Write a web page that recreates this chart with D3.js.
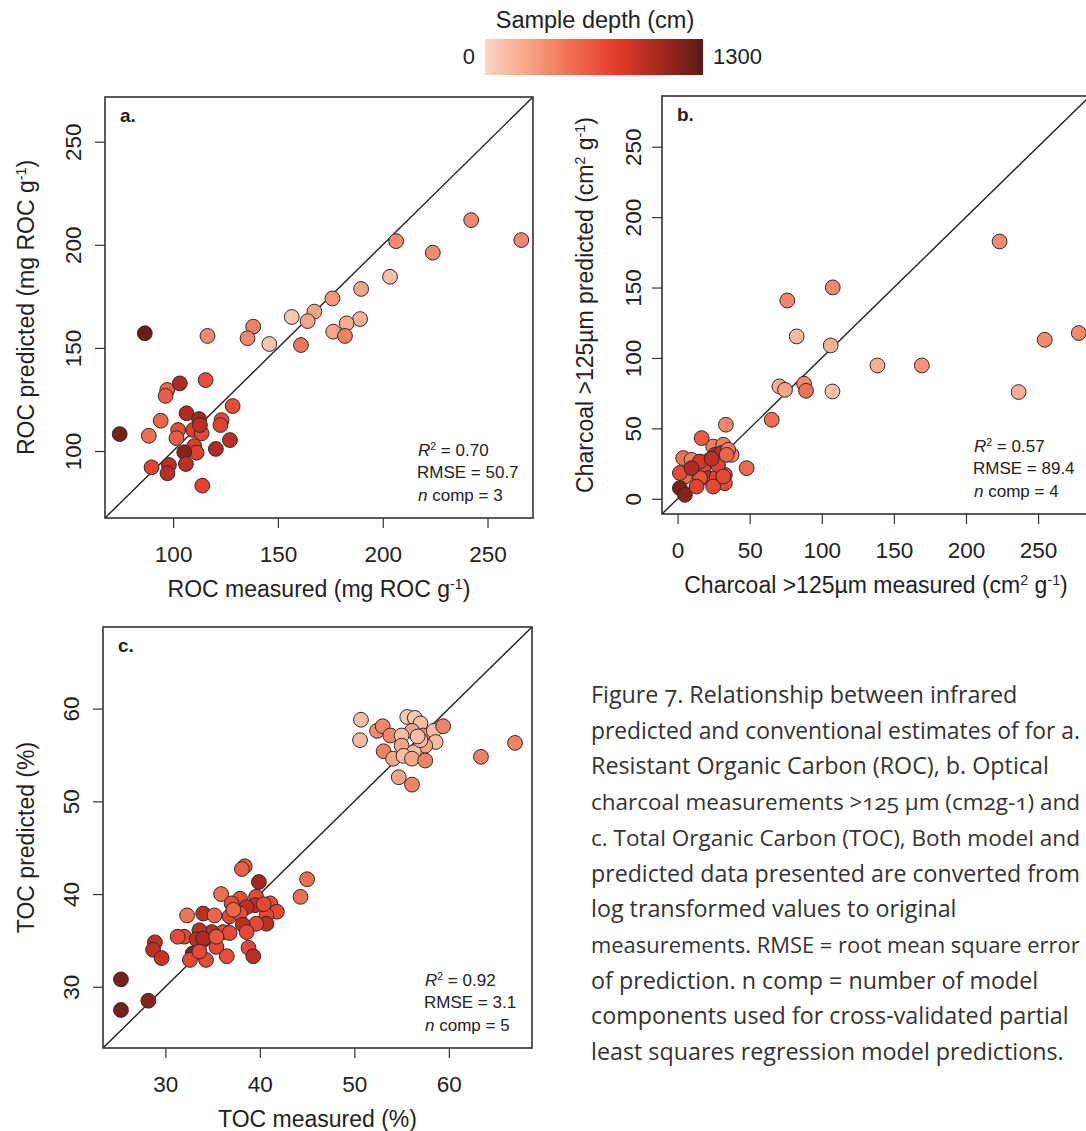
<!DOCTYPE html>
<html>
<head>
<meta charset="utf-8">
<script src="https://cdn.jsdelivr.net/npm/d3@7"></script>
<style>
  html, body { margin: 0; padding: 0; background: #fff; }
  svg { display: block; font-family: "Liberation Sans", Arial, sans-serif; }
  .caption { font-family: "Open Sans", sans-serif; font-variant-numeric: oldstyle-nums; font-feature-settings: "onum" 1; }
</style>
</head>
<body>
<svg id="fig" width="1086" height="1131"></svg>
<script>
// ---- Panel a: Resistant Organic Carbon (mg ROC g-1) ----
const rocMeasured  = [242.2, 266.1, 206.4, 223.9, 203.5, 189.7, 176.0, 167.4, 156.6, 164.2, 189.2, 182.8, 176.4, 182.0, 138.2, 135.5, 145.9, 161.0, 116.4, 86.5, 74.5, 88.4, 97.2, 96.4, 103.2, 115.5, 94.1, 128.4, 106.4, 112.4, 123.1, 122.6, 102.4, 101.6, 109.6, 113.6, 112.8, 127.1, 120.4, 110.1, 111.2, 105.3, 106.1, 89.7, 98.0, 97.3, 113.9];
const rocPredicted = [212.0, 202.3, 201.8, 196.2, 184.5, 178.6, 174.0, 167.6, 165.0, 163.0, 164.0, 161.9, 157.9, 155.8, 160.3, 154.7, 151.9, 151.4, 155.8, 157.1, 108.2, 107.4, 129.6, 126.7, 132.8, 134.4, 114.7, 121.8, 118.3, 115.5, 115.0, 112.6, 110.2, 106.2, 110.2, 108.6, 112.6, 105.3, 101.0, 102.4, 99.2, 99.4, 93.7, 92.1, 93.2, 89.2, 83.2];
const rocDepth     = [380, 380, 380, 380, 120, 250, 330, 250, 80, 250, 180, 230, 250, 420, 420, 400, 90, 480, 380, 1250, 1200, 520, 560, 600, 1000, 700, 560, 700, 1000, 1050, 720, 760, 700, 600, 780, 720, 950, 950, 1000, 800, 780, 1150, 950, 760, 950, 950, 760];
const rocLimits    = [67.5, 271.7];
const rocTicks     = [100, 150, 200, 250];

// ---- Panel b: charcoal >125 µm (cm2 g-1) ----
const charMeasured  = [223.3, 107.6, 76.1, 82.6, 106.2, 254.6, 278.2, 138.6, 169.4, 236.5, 107.4, 70.6, 74.5, 87.7, 89.1, 65.3, 33.5, 47.9, 16.7, 24.7, 31.7, 37.5, 3.9, 9.7, 10.4, 22.4, 25.9, 30.6, 17.8, 21.3, 27.1, 32.8, 32.8, 5.1, 15.5, 1.6, 5.1, 13.2, 24.7, 1.6, 35.1, 15.5, 28.0, 9.7, 23.6, 34.0, 31.7];
const charPredicted = [182.7, 150.1, 140.8, 115.3, 108.9, 112.9, 117.7, 94.7, 94.7, 75.8, 76.2, 79.8, 77.4, 81.7, 76.7, 56.1, 52.6, 21.8, 43.1, 37.1, 38.4, 31.2, 28.9, 27.7, 21.3, 27.7, 31.2, 32.5, 21.8, 14.7, 15.4, 17.0, 11.1, 15.8, 14.7, 7.6, 2.8, 8.7, 8.7, 18.3, 34.8, 26.5, 24.0, 21.8, 28.4, 31.2, 15.8];
const charDepth     = [380, 380, 400, 150, 200, 380, 380, 200, 330, 200, 100, 220, 250, 380, 500, 520, 400, 540, 620, 450, 450, 420, 500, 420, 950, 950, 1000, 950, 760, 950, 760, 700, 700, 560, 650, 1200, 1150, 760, 720, 700, 450, 850, 760, 1000, 950, 560, 720];
const charLimits    = [-10.8, 286];
const charTicks     = [0, 50, 100, 150, 200, 250];

// ---- Panel c: Total Organic Carbon (%) ----
const tocMeasured  = [50.7, 50.6, 52.4, 53.0, 53.8, 53.1, 54.1, 54.7, 56.1, 55.6, 56.4, 57.0, 56.1, 55.0, 57.3, 58.4, 59.4, 58.6, 57.5, 55.0, 56.3, 55.2, 56.1, 57.5, 63.4, 67.0, 57.0, 56.7, 38.4, 38.1, 39.9, 45.0, 44.3, 35.9, 37.9, 39.6, 41.1, 41.8, 39.5, 38.6, 37.0, 34.0, 35.2, 32.3, 36.8, 37.9, 40.7, 40.7, 39.6, 38.2, 38.6, 36.1, 36.8, 34.9, 33.6, 32.0, 33.3, 34.0, 35.4, 36.5, 34.3, 32.9, 32.6, 33.6, 38.8, 39.3, 28.9, 28.7, 29.6, 25.3, 25.3, 28.2, 37.2, 40.4, 35.4, 31.3];
const tocPredicted = [58.8, 56.6, 57.6, 58.1, 57.1, 55.4, 54.6, 52.6, 51.8, 59.1, 59.0, 58.4, 57.6, 57.1, 57.1, 57.6, 58.1, 56.4, 56.0, 56.0, 55.3, 54.9, 54.6, 54.4, 54.8, 56.3, 56.6, 57.0, 43.0, 42.7, 41.3, 41.6, 39.7, 40.0, 39.5, 39.7, 39.0, 38.1, 38.8, 38.6, 39.0, 37.9, 37.7, 37.7, 37.6, 37.9, 37.7, 36.8, 36.8, 36.7, 35.9, 35.9, 35.8, 35.9, 36.1, 35.4, 35.1, 35.2, 34.3, 33.3, 32.9, 33.6, 32.9, 33.8, 34.2, 33.3, 34.8, 34.0, 33.1, 30.8, 27.5, 28.5, 38.3, 38.9, 35.4, 35.4];
const tocDepth     = [130, 150, 380, 400, 400, 420, 250, 250, 420, 60, 60, 130, 250, 130, 400, 130, 420, 130, 250, 250, 130, 120, 250, 420, 420, 420, 130, 130, 620, 600, 1050, 520, 520, 520, 700, 720, 720, 720, 950, 950, 700, 950, 560, 480, 720, 700, 720, 950, 720, 950, 720, 720, 720, 950, 950, 720, 950, 1000, 720, 700, 700, 1150, 720, 720, 720, 950, 950, 950, 900, 1200, 1200, 1150, 560, 720, 650, 720];
const tocLimits    = [23.4, 68.8];
const tocTicks     = [30, 40, 50, 60];

// ---- depth colour ramp ----
const depthDomain = [0, 1300];
const depthStops  = ["#fcd5c3", "#f7a386", "#ef6d50", "#e33d2b", "#a9271f", "#5a1b16"];

const captionLines = [
  "Figure 7. Relationship between infrared",
  "predicted and conventional estimates of for a.",
  "Resistant Organic Carbon (ROC), b. Optical",
  "charcoal measurements >125 µm (cm2g-1) and",
  "c. Total Organic Carbon (TOC), Both model and",
  "predicted data presented are converted from",
  "log transformed values to original",
  "measurements. RMSE = root mean square error",
  "of prediction. n comp = number of model",
  "components used for cross-validated partial",
  "least squares regression model predictions."
];

const svg = d3.select("#fig");
svg.append("rect").attr("width", 1086).attr("height", 1131).attr("fill", "#fff");

const stopPos = depthStops.map((_, i) => depthDomain[0] + i * (depthDomain[1] - depthDomain[0]) / (depthStops.length - 1));
const color = d3.scaleLinear().domain(stopPos).range(depthStops).interpolate(d3.interpolateRgb);

// ---- colour bar legend ----
const legend = svg.append("g");
const barX = d3.scaleLinear().domain(depthDomain).range([485, 703]);
const grad = svg.append("defs").append("linearGradient").attr("id", "depthGrad");
stopPos.forEach((v, i) => grad.append("stop").attr("offset", (i / (stopPos.length - 1)) * 100 + "%").attr("stop-color", depthStops[i]));
legend.append("rect").attr("x", barX(0)).attr("y", 39).attr("width", barX(1300) - barX(0)).attr("height", 36).attr("fill", "url(#depthGrad)");
legend.append("text").attr("x", 595).attr("y", 28).attr("text-anchor", "middle").attr("font-size", 23.5).attr("fill", "#222").text("Sample depth (cm)");
legend.append("text").attr("x", barX(0) - 10).attr("y", 64).attr("text-anchor", "end").attr("font-size", 22).attr("fill", "#222").text(depthDomain[0]);
legend.append("text").attr("x", barX(1300) + 10).attr("y", 64).attr("text-anchor", "start").attr("font-size", 22).attr("fill", "#222").text(depthDomain[1]);

function supText(sel, parts) {
  // parts: [text, mode] where mode is "n" normal, "s" superscript, "i" italic
  parts.forEach(([t, m]) => {
    const ts = sel.append("tspan").text(t);
    if (m === "s") ts.attr("font-size", "0.62em").attr("baseline-shift", "super");
    if (m === "i") ts.attr("font-style", "italic");
  });
}

function panel(cfg) {
  const g = svg.append("g");
  const x = d3.scaleLinear().domain(cfg.limits).range([cfg.left, cfg.right]);
  const y = d3.scaleLinear().domain(cfg.limits).range([cfg.bottom, cfg.top]);
  const clipId = "clip-" + cfg.label[0];
  svg.select("defs").append("clipPath").attr("id", clipId)
    .append("rect").attr("x", cfg.left).attr("y", cfg.top).attr("width", cfg.right - cfg.left).attr("height", cfg.bottom - cfg.top);

  // axes
  const ax = g.append("g").attr("transform", `translate(0,${cfg.bottom})`)
    .call(d3.axisBottom(x).tickValues(cfg.ticks).tickSize(10).tickFormat(d3.format("d")));
  ax.select(".domain").remove();
  ax.selectAll("line").attr("stroke", "#333").attr("stroke-width", 1.2);
  ax.selectAll("text").attr("y", 36).attr("dy", "0.35em").attr("font-size", 22.5).attr("fill", "#222").attr("font-family", "Liberation Sans, Arial, sans-serif");

  const ay = g.append("g").attr("transform", `translate(${cfg.left},0)`)
    .call(d3.axisLeft(y).tickValues(cfg.ticks).tickSize(10).tickFormat(d3.format("d")));
  ay.select(".domain").remove();
  ay.selectAll("line").attr("stroke", "#333").attr("stroke-width", 1.2);
  ay.selectAll("text").attr("x", 0).attr("y", 0).attr("dy", "0.35em").attr("text-anchor", "middle")
    .attr("transform", `translate(${-cfg.yTickOff},0) rotate(-90)`)
    .attr("font-size", 22.5).attr("fill", "#222").attr("font-family", "Liberation Sans, Arial, sans-serif");

  // 1:1 line
  const plot = g.append("g").attr("clip-path", `url(#${clipId})`);
  plot.append("line")
    .attr("x1", x(cfg.limits[0])).attr("y1", y(cfg.limits[0]))
    .attr("x2", x(cfg.limits[1])).attr("y2", y(cfg.limits[1]))
    .attr("stroke", "#222").attr("stroke-width", 1.4);

  // points
  plot.selectAll("circle").data(cfg.xs.map((v, i) => ({ x: v, y: cfg.ys[i], d: cfg.depth[i] })))
    .join("circle")
    .attr("cx", d => x(d.x)).attr("cy", d => y(d.y)).attr("r", 7.4)
    .attr("fill", d => color(d.d)).attr("stroke", "#2b2b2b").attr("stroke-width", 1);

  // frame
  g.append("rect").attr("x", cfg.left).attr("y", cfg.top)
    .attr("width", cfg.right - cfg.left).attr("height", cfg.bottom - cfg.top)
    .attr("fill", "none").attr("stroke", "#333").attr("stroke-width", 1.6);

  // panel letter
  g.append("text").attr("x", cfg.left + 15).attr("y", cfg.top + 25)
    .attr("font-size", 19).attr("font-weight", "bold").attr("fill", "#222").text(cfg.label);

  // statistics
  const sx = cfg.right - cfg.statOff;
  const st = g.append("g").attr("font-size", 17).attr("fill", "#222");
  supText(st.append("text").attr("x", sx).attr("y", cfg.bottom - 62), [["R", "i"], ["2", "s"], [" = " + cfg.r2, "n"]]);
  st.append("text").attr("x", sx - 1).attr("y", cfg.bottom - 40).text("RMSE = " + cfg.rmse);
  supText(st.append("text").attr("x", sx).attr("y", cfg.bottom - 17), [["n", "i"], [" comp = " + cfg.ncomp, "n"]]);

  // axis titles
  const cx = (cfg.left + cfg.right) / 2;
  supText(g.append("text").attr("x", cx).attr("y", cfg.bottom + 71).attr("dy", "0.35em")
    .attr("text-anchor", "middle").attr("font-size", 23).attr("fill", "#222"), cfg.xTitle);
  const cy = (cfg.top + cfg.bottom) / 2;
  supText(g.append("text").attr("transform", `translate(${cfg.left - cfg.yTitleOff},${cy}) rotate(-90)`).attr("dy", "0.35em")
    .attr("text-anchor", "middle").attr("font-size", 23).attr("fill", "#222"), cfg.yTitle);
}

panel({
  label: "a.", left: 105, right: 533, top: 97, bottom: 518,
  limits: rocLimits, ticks: rocTicks, xs: rocMeasured, ys: rocPredicted, depth: rocDepth,
  r2: "0.70", rmse: "50.7", ncomp: 3, statOff: 115, yTickOff: 32, yTitleOff: 79,
  xTitle: [["ROC measured (mg ROC g", "n"], ["-1", "s"], [")", "n"]],
  yTitle: [["ROC predicted (mg ROC g", "n"], ["-1", "s"], [")", "n"]]
});
panel({
  label: "b.", left: 662, right: 1090, top: 96, bottom: 514,
  limits: charLimits, ticks: charTicks, xs: charMeasured, ys: charPredicted, depth: charDepth,
  r2: "0.57", rmse: "89.4", ncomp: 4, statOff: 116, yTickOff: 29, yTitleOff: 77,
  xTitle: [["Charcoal >125µm measured (cm", "n"], ["2", "s"], [" g", "n"], ["-1", "s"], [")", "n"]],
  yTitle: [["Charcoal >125µm predicted (cm", "n"], ["2", "s"], [" g", "n"], ["-1", "s"], [")", "n"]]
});
panel({
  label: "c.", left: 103, right: 532, top: 627, bottom: 1048,
  limits: tocLimits, ticks: tocTicks, xs: tocMeasured, ys: tocPredicted, depth: tocDepth,
  r2: "0.92", rmse: "3.1", ncomp: 5, statOff: 107, yTickOff: 32, yTitleOff: 77,
  xTitle: [["TOC measured (%)", "n"]],
  yTitle: [["TOC predicted (%)", "n"]]
});

// caption: a line that would run past the page edge gets a slightly smaller size
const capX = 591, capMaxW = 1080 - capX, capSize = 23.3;
captionLines.forEach((line, i) => {
  const t = svg.append("text").attr("class", "caption").attr("font-size", capSize).attr("fill", "#333")
    .attr("x", capX).attr("y", 703 + i * 35.7).text(line);
  const w = t.node().getComputedTextLength();
  if (w > capMaxW) t.attr("font-size", capSize * capMaxW / w);
});
</script>
</body>
</html>
